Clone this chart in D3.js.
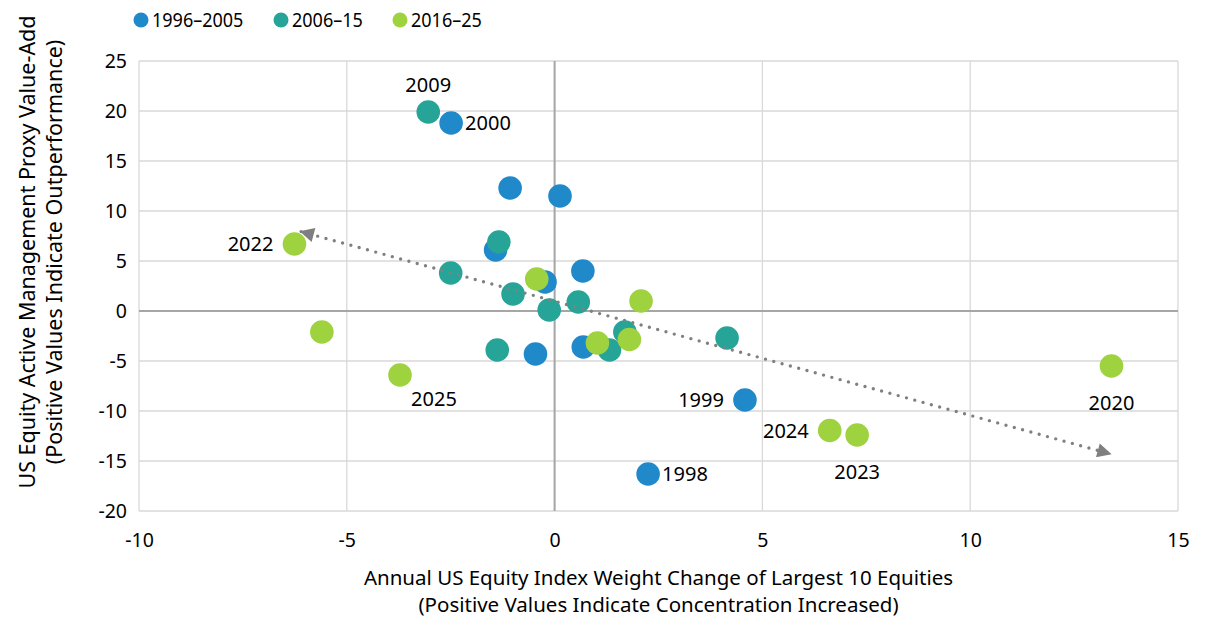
<!DOCTYPE html>
<html>
<head>
<meta charset="utf-8">
<script src="https://cdn.jsdelivr.net/npm/d3@7"></script>
<style>
  body { margin: 0; background: #fff; }
  svg text { font-family: "Noto Sans", "Open Sans", sans-serif; fill: #000; }
</style>
</head>
<body>
<svg id="chart" width="1206" height="618"></svg>
<script>
// series (x = weight change of top 10, y = active management value-add)
var seriesNames = ['1996\u20132005', '2006\u201315', '2016\u201325'];
var seriesColors = ['#2089c9', '#27a498', '#9ed23f'];

var blueX = [-2.49, -1.07, 0.13, -1.42, 0.68, -0.23, 0.69, -0.46, 4.58, 2.25];
var blueY = [18.8, 12.3, 11.5, 6.1, 4.0, 2.9, -3.6, -4.3, -8.9, -16.3];
var blueLabels = ['2000', '', '', '', '', '', '', '', '1999', '1998'];

var tealX = [-3.04, -1.34, -2.5, -1.0, -0.13, 0.57, 4.15, 1.69, 1.32, -1.38];
var tealY = [19.9, 6.9, 3.8, 1.7, 0.1, 0.9, -2.7, -2.1, -3.9, -3.9];
var tealLabels = ['2009', '', '', '', '', '', '', '', '', ''];

var greenX = [-6.26, -5.6, -3.72, -0.43, 2.08, 1.03, 1.8, 6.62, 7.28, 13.4];
var greenY = [6.7, -2.1, -6.4, 3.2, 1.0, -3.2, -2.85, -11.95, -12.4, -5.5];
var greenLabels = ['2022', '', '2025', '', '', '', '', '2024', '2023', '2020'];

// where each year label sits relative to its dot
var labelSide = {
  '2000': 'right', '1999': 'left', '1998': 'right',
  '2009': 'above',
  '2022': 'left', '2025': 'belowright', '2024': 'left', '2023': 'below', '2020': 'below'
};

var xTicks = [-10, -5, 0, 5, 10, 15];
var yTicks = [-20, -15, -10, -5, 0, 5, 10, 15, 20, 25];
var trendRange = [-6.1, 13.37];

var xTitle = ['Annual US Equity Index Weight Change of Largest 10 Equities',
              '(Positive Values Indicate Concentration Increased)'];
var yTitle = ['US Equity Active Management Proxy Value-Add',
              '(Positive Values Indicate Outperformance)'];

var series = [
  { x: blueX, y: blueY, labels: blueLabels },
  { x: tealX, y: tealY, labels: tealLabels },
  { x: greenX, y: greenY, labels: greenLabels }
];

var svg = d3.select('#chart');
var margin = { left: 139, right: 28, top: 61, bottom: 107 };
var width = 1206 - margin.left - margin.right;
var height = 618 - margin.top - margin.bottom;

var x = d3.scaleLinear().domain([-10, 15]).range([0, width]);
var y = d3.scaleLinear().domain([-20, 25]).range([height, 0]);

var g = svg.append('g')
  .attr('transform', 'translate(' + margin.left + ',' + margin.top + ')');

// gridlines
g.append('g')
  .selectAll('line')
  .data(xTicks)
  .enter().append('line')
  .attr('x1', d => x(d)).attr('x2', d => x(d))
  .attr('y1', 0).attr('y2', height)
  .attr('stroke', '#d9d9d9').attr('stroke-width', 1.3);

g.append('g')
  .selectAll('line')
  .data(yTicks)
  .enter().append('line')
  .attr('x1', 0).attr('x2', width)
  .attr('y1', d => y(d)).attr('y2', d => y(d))
  .attr('stroke', '#d9d9d9').attr('stroke-width', 1.3);

// zero lines
g.append('line')
  .attr('x1', 0).attr('x2', width)
  .attr('y1', y(0)).attr('y2', y(0))
  .attr('stroke', '#a6a6a6').attr('stroke-width', 2);
g.append('line')
  .attr('x1', x(0)).attr('x2', x(0))
  .attr('y1', 0).attr('y2', height)
  .attr('stroke', '#a6a6a6').attr('stroke-width', 2);

// axes: only labels, no domain or ticks. plain hyphen for negatives like excel
var xAxis = d3.axisBottom(x).tickValues(xTicks).tickSize(0).tickPadding(22)
  .tickFormat(d => String(d));
var yAxis = d3.axisLeft(y).tickValues(yTicks).tickSize(0).tickPadding(12)
  .tickFormat(d => String(d));

g.append('g')
  .attr('transform', 'translate(0,' + height + ')')
  .call(xAxis)
  .call(s => s.select('.domain').remove())
  .selectAll('text')
  .style('font-size', '19.5px')
  .style('font-family', '"Noto Sans", sans-serif');

g.append('g')
  .call(yAxis)
  .call(s => s.select('.domain').remove())
  .selectAll('text')
  .style('font-size', '19.5px')
  .style('font-family', '"Noto Sans", sans-serif');

// dots
series.forEach(function(s, si) {
  var pts = s.x.map((v, i) => ({ x: v, y: s.y[i], label: s.labels[i] }));
  g.append('g')
    .selectAll('circle')
    .data(pts)
    .enter().append('circle')
    .attr('cx', d => x(d.x))
    .attr('cy', d => y(d.y))
    .attr('r', 11.8)
    .attr('fill', seriesColors[si]);
});

// linear trend through all points
var allX = [].concat(blueX, tealX, greenX);
var allY = [].concat(blueY, tealY, greenY);
var mx = d3.mean(allX), my = d3.mean(allY);
var sxy = d3.sum(allX, (v, i) => (v - mx) * (allY[i] - my));
var sxx = d3.sum(allX, v => (v - mx) * (v - mx));
var slope = sxy / sxx, icpt = my - slope * mx;

svg.append('defs').append('marker')
  .attr('id', 'arrow')
  .attr('viewBox', '0 0 10 10')
  .attr('refX', 9).attr('refY', 5)
  .attr('markerWidth', 4.8).attr('markerHeight', 4.2)
  .attr('markerUnits', 'strokeWidth')
  .attr('orient', 'auto-start-reverse')
  .append('path')
  .attr('d', 'M0,0 L10,5 L0,10 z')
  .attr('fill', '#7f7f7f');

var trendPts = trendRange.map(v => [x(v), y(icpt + slope * v)]);
g.append('path')
  .attr('d', d3.line()(trendPts))
  .attr('fill', 'none')
  .attr('stroke', '#808080')
  .attr('stroke-width', 3.4)
  .attr('stroke-linecap', 'round')
  .attr('stroke-dasharray', '0 8.6')
  .attr('marker-start', 'url(#arrow)')
  .attr('marker-end', 'url(#arrow)');

// year labels
var labelData = [];
series.forEach(function(s) {
  s.labels.forEach(function(l, i) {
    if (l) labelData.push({ x: s.x[i], y: s.y[i], text: l, side: labelSide[l] });
  });
});

g.append('g')
  .selectAll('text')
  .data(labelData)
  .enter().append('text')
  .attr('x', function(d) {
    var px = x(d.x);
    if (d.side === 'right') return px + 14;
    if (d.side === 'left') return px - 21;
    if (d.side === 'belowright') return px + 34;
    return px;
  })
  .attr('y', function(d) {
    var py = y(d.y);
    if (d.side === 'above') return py - 20;
    if (d.side === 'below') return py + 44;
    if (d.side === 'belowright') return py + 31;
    return py + 7;
  })
  .attr('text-anchor', function(d) {
    if (d.side === 'right') return 'start';
    if (d.side === 'left') return 'end';
    return 'middle';
  })
  .style('font-size', '20px')
  .text(d => d.text);

// axis titles
svg.append('g')
  .selectAll('text')
  .data(xTitle)
  .enter().append('text')
  .attr('x', margin.left + width / 2)
  .attr('y', (d, i) => 585 + i * 27)
  .attr('text-anchor', 'middle')
  .style('font-size', '20.5px')
  .text(d => d);

svg.append('g')
  .selectAll('text')
  .data(yTitle)
  .enter().append('text')
  .attr('transform', (d, i) => 'translate(' + (35 + i * 27) + ',252) rotate(-90)')
  .attr('text-anchor', 'middle')
  .style('font-size', '21.5px')
  .text(d => d);

// legend
var legendX = [141, 281, 400];
var legend = svg.append('g')
  .selectAll('g')
  .data(seriesNames)
  .enter().append('g')
  .attr('transform', (d, i) => 'translate(' + legendX[i] + ',20)');
legend.append('circle')
  .attr('r', 7.5)
  .attr('fill', (d, i) => seriesColors[i]);
legend.append('text')
  .attr('x', 11)
  .attr('y', 7)
  .style('font-size', '20px')
  .text(d => d)
  .each(function() {
    // squeeze a little so the taller text keeps the original width
    var w = this.getComputedTextLength();
    d3.select(this).attr('textLength', w * 0.9).attr('lengthAdjust', 'spacingAndGlyphs');
  });
</script>
</body>
</html>
